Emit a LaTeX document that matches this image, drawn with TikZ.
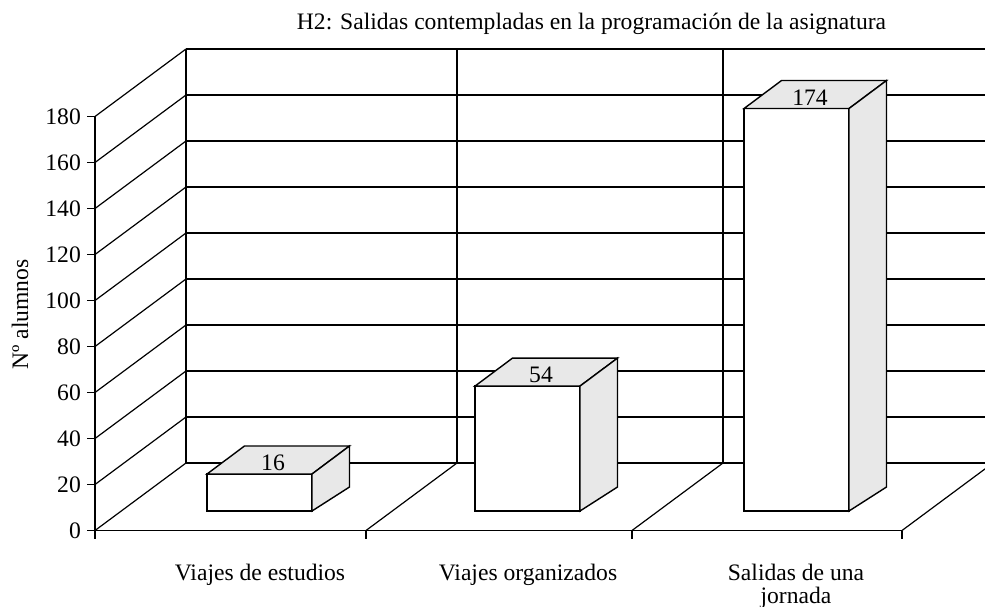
\documentclass[tikz,border=0pt]{standalone}
\usepackage{fontspec}
\setmainfont{Liberation Serif}
\definecolor{shade}{HTML}{E8E8E8}
\newcommand\mybar[3]{% #1 left x, #2 value, #3 name
  \pgfmathsetmacro\bt{511-2.313*#2}
  \draw[barline, fill=white] (#1,511) rectangle (#1+105,\bt);
  \draw[barline, fill=shade] (#1,\bt) -- (#1+37.5,\bt-28) -- (#1+142.5,\bt-28) -- (#1+105,\bt) -- cycle;
  \draw[barline, fill=shade] (#1+105,\bt) -- (#1+142.5,\bt-28) -- (#1+142.5,487) -- (#1+105,511) -- cycle;
  \node[lbl] (#3) at (#1+66,\bt-11) {#2};
}
\begin{document}
\begin{tikzpicture}[x=1pt,y=-1pt,
  axisline/.style={line width=1.5pt},
  gridline/.style={line width=1.2pt},
  barline/.style={line width=1.4pt},
  lbl/.style={font=\fontsize{23.6}{24}\selectfont, inner sep=0pt},
]
\useasboundingbox (0,0) rectangle (985,607);
\begin{scope}
\clip (0,0) rectangle (985,607);
% back wall and left wall gridlines
\foreach \v in {20,40,...,180} {
  \draw[gridline] (186,{463-2.3*\v}) -- (1000,{463-2.3*\v});
  \draw[gridline] (95,{530.5-2.3*\v}) -- (186,{463-2.3*\v});
}
\draw[axisline] (186,463) -- (1000,463);
\foreach \x in {186,457,723} \draw[axisline] (\x,463) -- (\x,49);
% floor diagonals
\foreach \x in {95,366,632,902} \draw[gridline] (\x,530.5) -- (\x+91,463);
% front axes
\draw[axisline] (95,116.5) -- (95,530.5) -- (902,530.5);
\foreach \v in {0,20,...,180} {
  \draw[axisline] (87,{530.5-2.3*\v}) -- (95,{530.5-2.3*\v});
  \node[lbl, anchor=east] (y\v) at (81,{530.5-2.3*\v}) {\v};
}
\foreach \x in {95,366,632,902} \draw[axisline] (\x,530.5) -- (\x,538.5);
% bars
\mybar{207}{16}{b1}
\mybar{475}{54}{b2}
\mybar{744}{174}{b3}
\end{scope}
% labels
\node[lbl, anchor=base] (t) at (591.5,30) {H2: Salidas contempladas en la programación de la asignatura};
\node[lbl, rotate=90, anchor=base] (ya) at (28,314.5) {Nº alumnos};
\node[lbl, anchor=base] (c1) at (260,580) {Viajes de estudios};
\node[lbl, anchor=base] (c2) at (528,580) {Viajes organizados};
\node[lbl, anchor=base] (c3) at (796,580) {Salidas de una};
\node[lbl, anchor=base] (c3b) at (796,603) {jornada};
\end{tikzpicture}
\end{document}
